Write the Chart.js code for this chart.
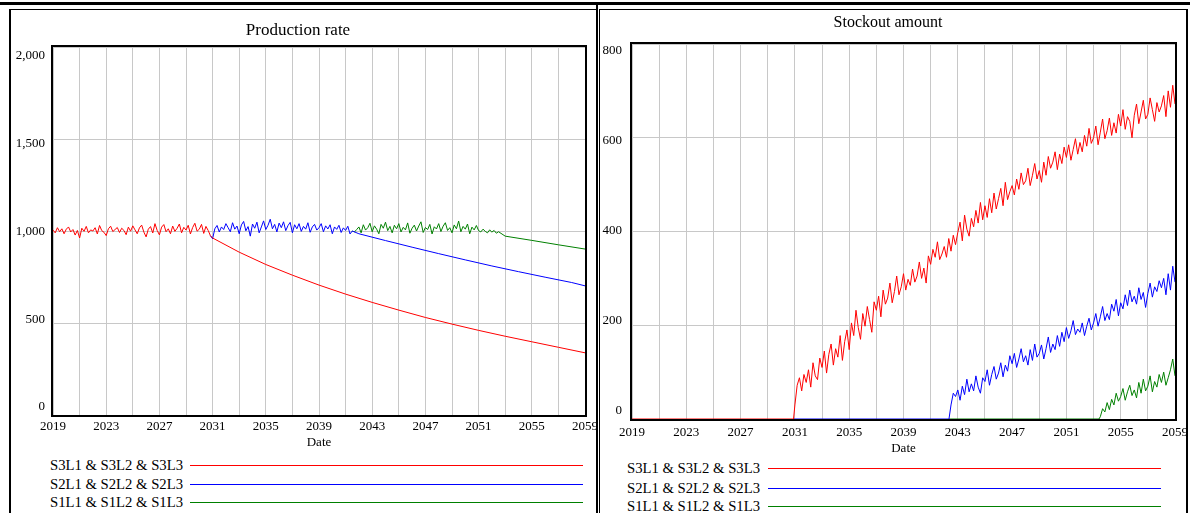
<!DOCTYPE html>
<html>
<head>
<meta charset="utf-8">
<script src="https://cdn.jsdelivr.net/npm/chart.js@4.4.1/dist/chart.umd.min.js"></script>
<style>
  html, body { margin: 0; padding: 0; background: #fff; }
  body { width: 1190px; height: 513px; position: relative; overflow: hidden;
         font-family: "Liberation Serif", "Times New Roman", serif; }
  .rule { position: absolute; background: #000; }
  canvas { position: absolute; }
  .legText { position: absolute; white-space: nowrap; font-size: 14.7px; line-height: 18px; color: #000; }
  .legLine { position: absolute; height: 1px; }
</style>
</head>
<body>
<!-- panel frames -->
<div class="rule" style="left:0;top:2px;width:1190px;height:3px"></div>
<div class="rule" style="left:9px;top:9px;width:2px;height:504px"></div>
<div class="rule" style="left:9px;top:9px;width:588px;height:1px"></div>
<div class="rule" style="left:596px;top:2px;width:2px;height:511px"></div>
<div class="rule" style="left:599px;top:9px;width:1px;height:504px"></div>
<div class="rule" style="left:599px;top:9px;width:589px;height:1px"></div>
<div class="rule" style="left:1186px;top:9px;width:2px;height:504px"></div>

<canvas id="prodChart" width="585" height="440" style="left:11px;top:11px"></canvas>
<canvas id="stockChart" width="585" height="445" style="left:601px;top:11px"></canvas>
<div id="legends"></div>

<script>
// ---- series & axis data ----
const seriesNames = ['S3L1 & S3L2 & S3L3', 'S2L1 & S2L2 & S2L3', 'S1L1 & S1L2 & S1L3'];
const seriesColors = ['#ff0000', '#0000ff', '#008000'];

const gridYears = [2019, 2021, 2023, 2025, 2027, 2029, 2031, 2033, 2035, 2037, 2039,
                   2041, 2043, 2045, 2047, 2049, 2051, 2053, 2055, 2057, 2059];
const labelYears = [2019, 2023, 2027, 2031, 2035, 2039, 2043, 2047, 2051, 2055, 2059];
const prodTicks = [0, 500, 1000, 1500, 2000];
const stockTicks = [0, 200, 400, 600, 800];

const samplesPerYear = 6;

// Production rate, common to all scenarios until each one starts to fall (from 2019)
const prodStart = 2019;
const prodNoise = [
  1005, 990, 1018, 996, 1012, 985,
  1010, 1022, 995, 1008, 978, 1003,
  962, 1015, 998, 1025, 990, 1006,
  1000, 1018, 984, 1030, 1002, 993,
  975, 1012, 1026, 997, 1008, 1019,
  992, 1015, 1003, 980, 1021, 999,
  1028, 1006, 985, 1017, 1032, 994,
  968, 1010, 1024, 989, 1040, 1003,
  979, 1021, 1035, 996, 1012, 985,
  1027, 998, 1015, 1038, 990, 1020,
  1005, 1031, 984, 1019, 1042, 999,
  1010, 1036, 987, 1025, 1003, 975,
  958, 1012, 1030, 995, 1022, 1008,
  1040, 1018, 996, 1045, 1010, 1027,
  985, 1033, 1052, 1001, 1024, 972,
  1038, 1015, 1048, 990, 1022, 1055,
  1008, 1031, 1064, 1012, 1036, 995,
  1043, 1018, 1050, 1002, 1029, 1047,
  990, 1034, 1012, 1040, 998, 1025,
  1010, 1045, 993, 1022, 1036, 1005,
  1018, 1040, 996, 1028, 1011, 1034,
  985, 1022, 1009, 1031, 992, 1017,
  1003, 1026, 984, 1000, 995, 1008,
  1022, 990, 1034, 1005, 1018, 1042,
  996, 1028, 1010, 985, 1036, 1015,
  1048, 1002, 1025, 990, 1031, 1012,
  1040, 995, 1020, 1006, 1044, 988,
  1015, 1032, 1000, 1027, 1050, 992,
  1019, 1008, 1036, 984, 1023, 1011,
  1040, 997, 1026, 1045, 1003, 1018,
  990, 1033, 1012, 1054, 996, 1025,
  1010, 1038, 985, 1021, 1006, 1030,
  1002, 995, 1010, 998, 990, 1006,
  994, 1003, 988, 996
];
// year each scenario leaves the common path
const prodSplitYears = [2030.84, 2041.51, 2052.51];

// production decline after the split
const redDeclineYears = [2031, 2033, 2035, 2037, 2039, 2041, 2043, 2045, 2047, 2049, 2051, 2053, 2055, 2057, 2059];
const redDecline = [962, 885, 818, 760, 706, 657, 612, 570, 530, 494, 460, 428, 398, 368, 338];
const blueDeclineYears = [2042, 2044, 2046, 2048, 2050, 2052, 2054, 2056, 2058, 2059];
const blueDecline = [985, 948, 912, 877, 843, 810, 779, 749, 720, 702];
const greenDeclineYears = [2053, 2055, 2057, 2059];
const greenDecline = [972, 949, 925, 902];

// Stockout amount: zero until onset, then sampled values
const stockOnsets = [2030.9, 2042.35, 2053.4];
const redStockStart = 2031;
const redStock = [
  30, 72, 88, 60, 95, 78,
  105, 68, 120, 92, 84, 130,
  110, 145, 98, 138, 160, 115,
  150, 132, 178, 125, 165, 190,
  148, 205, 178, 232, 195, 170,
  225, 198, 240, 212, 185, 250,
  232, 262, 218, 275, 245, 258,
  290, 248, 272, 305, 265, 282,
  310, 275, 298, 285, 320, 292,
  305, 335, 300, 322, 290, 348,
  330, 362, 345, 378, 340, 352,
  368, 345, 385, 358, 392, 372,
  398, 420, 380, 435, 405, 390,
  428, 410, 445, 418, 462, 425,
  455, 430, 470, 440, 482, 448,
  470, 492, 455, 505, 468, 485,
  498, 478, 512, 490, 525, 500,
  508, 535, 498, 520, 545, 512,
  530, 505, 548, 520, 560, 535,
  548, 570, 532, 565, 545, 580,
  558, 585, 552, 575, 598, 565,
  590, 570, 605, 582, 620, 588,
  600, 625, 585, 612, 640, 598,
  615, 642, 605, 632, 610, 650,
  625, 660, 618, 645, 635, 600,
  648, 672, 630, 655, 680, 640,
  650, 685, 660, 635, 675, 655,
  668, 690, 645, 700, 665, 712,
  672
];
const blueStockStart = 2042.5;
const blueStock = [
  30, 55, 48,
  62, 40, 70, 52, 85, 58,
  75, 60, 92, 68, 55, 88,
  80, 105, 72, 95, 112, 85,
  98, 120, 90, 115, 102, 135,
  118, 140, 110, 128, 150, 122,
  135, 115, 148, 125, 160, 132,
  140, 158, 128, 150, 175, 142,
  160, 148, 178, 155, 185, 165,
  195, 172, 188, 210, 180, 192,
  185, 205, 178, 198, 215, 190,
  205, 225, 198, 218, 240, 210,
  225, 212, 245, 230, 255, 220,
  248, 235, 265, 242, 275, 250,
  262, 245, 280, 255, 270, 238,
  268, 290, 260, 282, 272, 295,
  280, 300, 265, 310, 275, 326,
  292
];
const greenStockStart = 2053.5;
const greenStock = [
  5, 22, 15,
  35, 20, 42, 30, 55, 38,
  48, 65, 40, 58, 72, 50,
  62, 45, 78, 55, 85, 60,
  70, 92, 58, 80, 68, 95,
  78, 100, 72, 88, 105, 128,
  92
];

// ---- building the point lists ----
function sampled(values, start) {
  return values.map((v, i) => ({ x: start + i / samplesPerYear, y: v }));
}
function pairs(years, values) {
  return years.map((x, i) => ({ x, y: values[i] }));
}
function commonPath(until) {
  return sampled(prodNoise, prodStart).filter(p => p.x <= until);
}
const prodSeries = [
  commonPath(prodSplitYears[0]).concat(pairs(redDeclineYears, redDecline)),
  commonPath(prodSplitYears[1]).concat(pairs(blueDeclineYears, blueDecline)),
  commonPath(prodSplitYears[2]).concat(pairs(greenDeclineYears, greenDecline))
];
// zero stock from 2019 up to this scenario's onset
function stockPath(k, start, values) {
  const zeros = [2019].concat(stockOnsets.slice(0, k + 1)).map(x => ({ x, y: 0 }));
  return zeros.concat(sampled(values, start));
}
const stockSeries = [
  stockPath(0, redStockStart, redStock),
  stockPath(1, blueStockStart, blueStock),
  stockPath(2, greenStockStart, greenStock)
];

// ---- chart setup ----
const FONT = "'Liberation Serif', 'Times New Roman', serif";

const plotFrame = {
  id: 'plotFrame',
  beforeDatasetsDraw(chart) {
    const { ctx, chartArea: a } = chart;
    ctx.save();
    ctx.strokeStyle = '#000';
    ctx.lineWidth = 2;
    ctx.strokeRect(a.left - 1, a.top - 1, a.right - a.left + 2, a.bottom - a.top + 2);
    ctx.restore();
  }
};

function buildChart(canvasId, cfg) {
  const datasets = cfg.series.map((pts, i) => {
    // stretch shared with the series drawn above it is left to that series
    const hiddenUntil = i === 0 ? -Infinity : cfg.sharedUntil[i - 1];
    return {
      label: seriesNames[i],
      data: pts,
      borderColor: seriesColors[i],
      backgroundColor: seriesColors[i],
      borderWidth: 1,
      pointRadius: 0,
      tension: 0,
      fill: false,
      segment: {
        borderColor: c => (c.p1.parsed.x <= hiddenUntil ? 'rgba(0,0,0,0)' : undefined)
      }
    };
  });
  // label axis spans a little beyond the data range so end labels sit inside the frame
  const span = cfg.yMax / cfg.labelSpanPx;
  return new Chart(document.getElementById(canvasId), {
    type: 'line',
    data: { datasets },
    plugins: [plotFrame],
    options: {
      responsive: false,
      animation: false,
      layout: { padding: { left: 0, right: cfg.padRight, top: 0, bottom: 0 } },
      plugins: {
        legend: { display: false },
        tooltip: { enabled: false },
        title: {
          display: true, text: cfg.title, color: '#000',
          font: { family: FONT, size: cfg.titleSize, weight: 'normal', lineHeight: 1.2 },
          padding: { top: cfg.titleTop, bottom: cfg.titleBottom }
        }
      },
      scales: {
        x: {
          type: 'linear', min: 2019, max: 2059,
          afterBuildTicks: s => { s.ticks = gridYears.map(v => ({ value: v })); },
          afterFit: s => { s.height = cfg.xHeight; s.paddingLeft = 0; s.paddingRight = 0; },
          grid: { color: '#c8c8c8', lineWidth: 1, drawTicks: false },
          border: { display: false },
          ticks: {
            autoSkip: false, maxRotation: 0, minRotation: 0, padding: cfg.xTickPad,
            color: '#000', font: { family: FONT, size: 13 },
            callback: v => labelYears.includes(v) ? String(v) : ''
          },
          title: {
            display: true, text: 'Date', color: '#000',
            font: { family: FONT, size: 13 }, padding: { top: 0, bottom: cfg.dateBottom }
          }
        },
        y: {
          type: 'linear', position: 'left', min: 0, max: cfg.yMax,
          afterBuildTicks: s => { s.ticks = cfg.ticks.map(v => ({ value: v })); },
          afterFit: s => { s.width = 0; s.paddingTop = 0; s.paddingBottom = 0; },
          grid: { color: '#c8c8c8', lineWidth: 1, drawTicks: false },
          border: { display: false },
          ticks: { display: false }
        },
        yLabels: {
          type: 'linear', position: 'left',
          min: -cfg.labelBottomPx * span, max: cfg.yMax + cfg.labelTopPx * span,
          afterBuildTicks: s => { s.ticks = cfg.ticks.map(v => ({ value: v })); },
          afterFit: s => { s.width = cfg.yWidth; s.paddingTop = 0; s.paddingBottom = 0; },
          grid: { display: false, drawTicks: false },
          border: { display: false },
          ticks: {
            padding: cfg.yTickPad, color: '#000', font: { family: FONT, size: 13 },
            callback: v => v.toLocaleString('en-US')
          }
        }
      }
    }
  });
}

buildChart('prodChart', {
  series: prodSeries, sharedUntil: prodSplitYears, title: 'Production rate', titleSize: 17,
  titleTop: 9, titleBottom: 6.6, padRight: 11,
  yMax: 2000, ticks: prodTicks, yWidth: 42, yTickPad: 8,
  labelTopPx: 9, labelBottomPx: 8, labelSpanPx: 351,
  xHeight: 36, xTickPad: 4, dateBottom: 1
});

buildChart('stockChart', {
  series: stockSeries, sharedUntil: stockOnsets, title: 'Stockout amount', titleSize: 16,
  titleTop: 2.4, titleBottom: 11.4, padRight: 11,
  yMax: 800, ticks: stockTicks, yWidth: 31, yTickPad: 10,
  labelTopPx: 7, labelBottomPx: 8, labelSpanPx: 359,
  xHeight: 37, xTickPad: 6, dateBottom: 0
});

// ---- legends under each panel ----
function buildLegend(textRight, lineLeft, lineRight, rowsY) {
  const host = document.getElementById('legends');
  seriesNames.forEach((name, i) => {
    const t = document.createElement('div');
    t.className = 'legText';
    t.textContent = name;
    t.style.right = (1190 - textRight) + 'px';
    t.style.top = (rowsY[i] - 9) + 'px';
    host.appendChild(t);
    const l = document.createElement('div');
    l.className = 'legLine';
    l.style.left = lineLeft + 'px';
    l.style.width = (lineRight - lineLeft) + 'px';
    l.style.top = rowsY[i] + 'px';
    l.style.background = seriesColors[i];
    host.appendChild(l);
  });
}
buildLegend(183, 190, 583, [465, 484, 502]);
buildLegend(760, 768, 1161, [468, 488, 506]);
</script>
</body>
</html>
